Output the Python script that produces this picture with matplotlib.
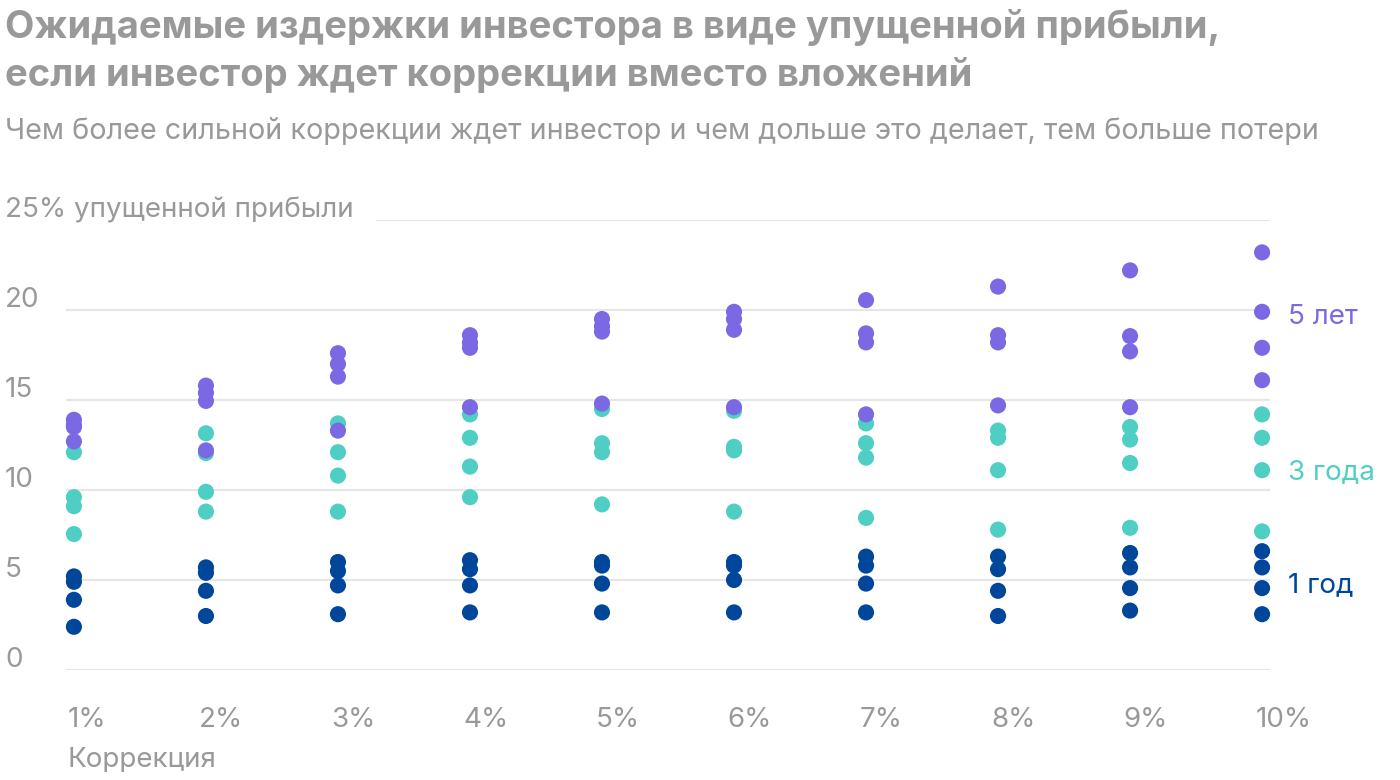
import matplotlib
matplotlib.use("Agg")
import matplotlib.pyplot as plt
import matplotlib.transforms as mtransforms

plt.rcParams['font.family'] = ['Inter', 'DejaVu Sans']

# Коррекция, %
corrections = [1, 2, 3, 4, 5, 6, 7, 8, 9, 10]
x_labels = ["1%", "2%", "3%", "4%", "5%", "6%", "7%", "8%", "9%", "10%"]

# упущенная прибыль, % (4 сценария на каждую коррекцию)
loss_1y = [
    [5.2, 4.9, 3.9, 2.4],
    [5.7, 5.4, 4.4, 3.0],
    [6.0, 5.5, 4.7, 3.1],
    [6.1, 5.6, 4.7, 3.2],
    [6.0, 5.8, 4.8, 3.2],
    [6.0, 5.8, 5.0, 3.2],
    [6.3, 5.8, 4.8, 3.2],
    [6.3, 5.6, 4.4, 3.0],
    [6.5, 5.7, 4.55, 3.3],
    [6.6, 5.7, 4.55, 3.1],
]
loss_3y = [
    [12.1, 9.6, 9.1, 7.55],
    [13.15, 12.05, 9.9, 8.8],
    [13.7, 12.1, 10.8, 8.8],
    [14.2, 12.9, 11.3, 9.6],
    [14.5, 12.6, 12.1, 9.2],
    [14.4, 12.4, 12.2, 8.8],
    [13.7, 12.6, 11.8, 8.45],
    [13.3, 12.9, 11.1, 7.8],
    [13.5, 12.8, 11.5, 7.9],
    [14.2, 12.9, 11.1, 7.7],
]
loss_5y = [
    [13.9, 13.6, 13.5, 12.7],
    [15.8, 15.4, 14.95, 12.2],
    [17.6, 17.0, 16.3, 13.3],
    [18.6, 18.2, 17.9, 14.6],
    [19.5, 19.1, 18.8, 14.8],
    [19.9, 19.5, 18.9, 14.6],
    [20.55, 18.7, 18.2, 14.2],
    [21.3, 18.6, 18.2, 14.7],
    [22.2, 18.55, 17.7, 14.6],
    [23.2, 19.9, 17.9, 16.1],
]

series = [
    ("1 год", loss_1y, "#00479b", 4.7),
    ("3 года", loss_3y, "#4fcfc4", 11.0),
    ("5 лет", loss_5y, "#7b69e3", 19.6),
]

y_ticks = [0, 5, 10, 15, 20, 25]
y_labels = ["0", "5", "10", "15", "20", "25% упущенной прибыли"]

grey = "#999999"
fs = 20

fig = plt.figure(figsize=(14, 7.8), dpi=100)
ax = fig.add_axes([66 / 1400, 110 / 780, 1204 / 1400, 450 / 780])
ax.set_xlim(0.94, 10.06)
ax.set_ylim(0, 25)
ax.axis("off")

# gridlines
for t in y_ticks:
    start = 0.258 if t == 25 else 0.0
    ax.axhline(t, xmin=start, xmax=1.0, color="#e6e6e6", lw=1.5, zorder=0)

# y tick labels, sitting above the gridline at the left edge
ytrans = mtransforms.blended_transform_factory(fig.transFigure, ax.transData)
for t, lab in zip(y_ticks, y_labels):
    ax.text(5 / 1400, t, lab, transform=ytrans + mtransforms.ScaledTranslation(0, 10 / 100, fig.dpi_scale_trans),
            ha="left", va="center", fontsize=fs, color=grey)

# x tick labels
xtrans = mtransforms.blended_transform_factory(ax.transData, fig.transFigure)
for x, lab in zip(corrections, x_labels):
    ax.text(x - 0.05, 1 - 720 / 780, lab, transform=xtrans, ha="left", va="center",
            fontsize=fs, color=grey)
ax.text(1 - 0.05, 1 - 760 / 780, "Коррекция", transform=xtrans, ha="left", va="center",
        fontsize=fs, color=grey)

# dots
for name, vals, color, label_y in series:
    xs = [x for x, row in zip(corrections, vals) for _ in row]
    ys = [v for row in vals for v in row]
    ax.scatter(xs, ys, s=135, color=color, edgecolors="none", clip_on=False, zorder=3)
    ax.annotate(name, xy=(corrections[-1], label_y), xytext=(19, 0), textcoords="offset points",
                ha="left", va="center", fontsize=fs, color=color)

# title and subtitle
fig.text(5 / 1400, 1 - 28 / 780, "Ожидаемые издержки инвестора в виде упущенной прибыли,",
         ha="left", va="center", fontsize=27.5, fontweight="bold", color=grey)
fig.text(5 / 1400, 1 - 76 / 780, "если инвестор ждет коррекции вместо вложений",
         ha="left", va="center", fontsize=27.5, fontweight="bold", color=grey)
fig.text(5 / 1400, 1 - 131 / 780,
         "Чем более сильной коррекции ждет инвестор и чем дольше это делает, тем больше потери",
         ha="left", va="center", fontsize=20.7, color=grey)

fig.savefig("out.png", dpi=100)
